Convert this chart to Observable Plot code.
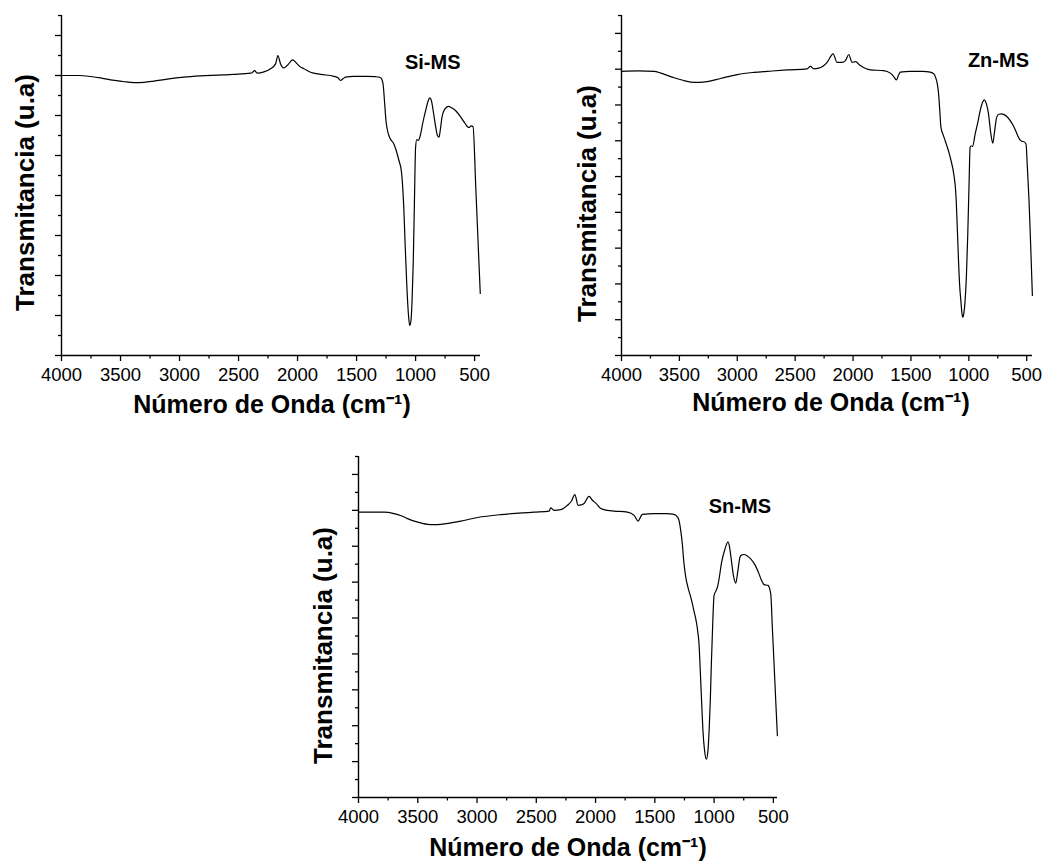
<!DOCTYPE html>
<html>
<head>
<meta charset="utf-8">
<script src="https://cdn.jsdelivr.net/npm/d3@7"></script>
<script src="https://cdn.jsdelivr.net/npm/@observablehq/plot@0.6"></script>
<style>
  html, body { margin: 0; padding: 0; background: #fff; }
  #fig { position: relative; width: 1052px; height: 861px; background: #fff; overflow: hidden; }
  #fig svg { position: absolute; }
</style>
</head>
<body>
<div id="fig"></div>
<script>
// ---------- DATA ----------
const siWave = [4000, 3850, 3754, 3670, 3585, 3480, 3387, 3300, 3218, 3105,
  2963, 2822, 2680, 2540, 2400, 2384, 2364, 2342, 2285, 2229,
  2186, 2167, 2144, 2116, 2088, 2040, 2003, 1975, 1946, 1890,
  1805, 1692, 1660, 1636, 1610, 1593, 1523, 1410, 1340, 1300,
  1285, 1274, 1262, 1250, 1240, 1220, 1184, 1141, 1120, 1110,
  1100, 1090, 1075, 1060, 1050, 1040, 1030, 1020, 1010, 1000,
  990, 975, 960, 940, 915, 895, 880, 865, 850, 830,
  815, 802, 790, 775, 760, 740, 720, 700, 660, 620,
  580, 560, 545, 530, 513, 490, 470, 452];
const siT = [7.00, 7.00, 6.975, 6.94, 6.89, 6.85, 6.82, 6.83, 6.86, 6.91,
  6.96, 6.99, 7.01, 7.03, 7.06, 7.07, 7.12, 7.06, 7.09, 7.17,
  7.29, 7.50, 7.29, 7.19, 7.25, 7.39, 7.29, 7.21, 7.17, 7.08,
  7.03, 6.98, 6.95, 6.875, 6.93, 6.96, 6.98, 6.98, 6.97, 6.95,
  6.90, 6.75, 6.30, 5.85, 5.65, 5.45, 5.29, 4.875, 4.60, 4.25,
  3.70, 2.90, 1.80, 1.00, 0.75, 0.85, 1.35, 2.30, 3.80, 5.20,
  5.40, 5.38, 5.50, 5.80, 6.12, 6.35, 6.44, 6.36, 6.10, 5.72,
  5.50, 5.46, 5.65, 5.98, 6.12, 6.20, 6.23, 6.20, 6.12, 5.97,
  5.80, 5.72, 5.70, 5.74, 5.72, 4.20, 2.80, 1.55];

const znWave = [4000, 3850, 3718, 3661, 3600, 3546, 3470, 3402, 3330, 3259,
  3144, 3000, 2856, 2700, 2569, 2397, 2368, 2339, 2296, 2260,
  2224, 2172, 2138, 2095, 2066, 2037, 2009, 1980, 1937, 1851,
  1736, 1678, 1650, 1626, 1605, 1592, 1506, 1400, 1333, 1300,
  1285, 1270, 1261, 1250, 1241, 1220, 1204, 1161, 1126, 1115,
  1109, 1100, 1089, 1079, 1069, 1060, 1052, 1042, 1032, 1020,
  1009, 998, 989, 978, 968, 945, 920, 902, 880, 865,
  850, 830, 810, 793, 780, 759, 740, 716, 695, 672,
  615, 557, 540, 529, 506, 495, 480, 465, 451];
const znT = [7.94, 7.95, 7.94, 7.89, 7.82, 7.76, 7.69, 7.64, 7.63, 7.65,
  7.74, 7.85, 7.91, 7.95, 7.98, 8.01, 8.08, 8.01, 8.03, 8.08,
  8.19, 8.43, 8.19, 8.19, 8.24, 8.41, 8.19, 8.21, 8.10, 7.98,
  7.96, 7.89, 7.80, 7.70, 7.85, 7.92, 7.94, 7.94, 7.92, 7.86,
  7.75, 7.55, 7.31, 6.80, 6.38, 6.15, 6.00, 5.54, 4.98, 4.65,
  4.33, 3.60, 2.65, 1.95, 1.54, 1.20, 1.07, 1.20, 1.54, 2.30,
  3.40, 4.80, 5.82, 5.86, 5.84, 6.19, 6.55, 6.84, 7.08, 7.14,
  7.05, 6.75, 6.20, 5.93, 6.20, 6.66, 6.74, 6.75, 6.73, 6.68,
  6.42, 6.02, 5.98, 5.98, 5.91, 5.30, 4.33, 3.00, 1.68];

const snWave = [4000, 3784, 3700, 3640, 3587, 3500, 3418, 3360, 3306, 3220,
  3137, 2996, 2800, 2650, 2518, 2392, 2378, 2350, 2293, 2237,
  2203, 2175, 2147, 2120, 2097, 2055, 2026, 1998, 1956, 1900,
  1844, 1731, 1675, 1641, 1620, 1605, 1506, 1400, 1338, 1310,
  1296, 1282, 1268, 1255, 1239, 1220, 1197, 1170, 1147, 1135,
  1127, 1120, 1113, 1103, 1094, 1080, 1065, 1052, 1042, 1032,
  1023, 1012, 1000, 985, 972, 955, 939, 910, 882, 868,
  854, 835, 817, 800, 781, 765, 747, 720, 691, 655,
  621, 600, 578, 545, 522, 508, 494, 480, 466];
const snT = [7.95, 7.95, 7.91, 7.85, 7.77, 7.67, 7.61, 7.60, 7.61, 7.65,
  7.70, 7.80, 7.88, 7.92, 7.95, 7.98, 8.07, 8.00, 8.02, 8.14,
  8.26, 8.44, 8.14, 8.15, 8.19, 8.39, 8.28, 8.20, 8.05, 8.00,
  7.98, 7.95, 7.86, 7.70, 7.82, 7.89, 7.91, 7.91, 7.89, 7.82,
  7.72, 7.45, 7.07, 6.55, 6.14, 5.85, 5.58, 5.20, 4.84, 4.55,
  4.28, 3.80, 3.26, 2.50, 1.86, 1.30, 1.07, 1.30, 1.86, 2.70,
  3.72, 4.80, 5.63, 5.75, 5.86, 6.15, 6.51, 6.90, 7.12, 6.95,
  6.60, 6.15, 5.97, 6.30, 6.70, 6.76, 6.77, 6.73, 6.65, 6.48,
  6.23, 6.05, 5.93, 5.91, 5.67, 4.70, 3.72, 2.70, 1.72];

const xMajorTicks = [4000, 3500, 3000, 2500, 2000, 1500, 1000, 500];
const xMinorTicks = [3750, 3250, 2750, 2250, 1750, 1250, 750];
const yMajorTicksA = [0, 1, 2, 3, 4, 5, 6, 7, 8];
const yMinorTicksA = [0.5, 1.5, 2.5, 3.5, 4.5, 5.5, 6.5, 7.5, 8.5];
const yMajorTicksB = [0, 1, 2, 3, 4, 5, 6, 7, 8, 9];
const yMinorTicksB = [0.5, 1.5, 2.5, 3.5, 4.5, 5.5, 6.5, 7.5, 8.5, 9.5];

const sampleNames = ["Si-MS", "Zn-MS", "Sn-MS"];
const yAxisTitle = "Transmitancia (u.a)";
const xAxisTitle = "Número de Onda (cm⁻¹)";

// ---------- LAYOUT ----------
const FONT = "'Liberation Sans', Arial, Helvetica, sans-serif";
const panels = [
  {wave: siWave, trans: siT, name: sampleNames[0], xEnd: 450, yTop: 8.5, yMajor: yMajorTicksA, yMinor: yMinorTicksA,
   left: 0, top: 0, width: 520, height: 430, mL: 61, mR: 40, mT: 15, mB: 75,
   yLab: [-36, 7], xLab: [1, 49], nameOff: [-20, 47]},
  {wave: znWave, trans: znT, name: sampleNames[1], xEnd: 450, yTop: 9.5, yMajor: yMajorTicksB, yMinor: yMinorTicksB,
   left: 520, top: 0, width: 532, height: 430, mL: 101, mR: 20, mT: 15, mB: 75,
   yLab: [-34, 18], xLab: [4, 47], nameOff: [-3.5, 45]},
  {wave: snWave, trans: snT, name: sampleNames[2], xEnd: 465, yTop: 9.5, yMajor: yMajorTicksB, yMinor: yMinorTicksB,
   left: 260, top: 430, width: 560, height: 431, mL: 98, mR: 43, mT: 26, mB: 64,
   yLab: [-35, 18.5], xLab: [0, 50], nameOff: [-6.5, 50]}
];

const fig = document.getElementById("fig");
for (const p of panels) {
  const data = p.wave.map((w, i) => ({w, t: p.trans[i]}));
  const svg = Plot.plot({
    width: p.width, height: p.height,
    marginLeft: p.mL, marginRight: p.mR, marginTop: p.mT, marginBottom: p.mB,
    style: {fontFamily: FONT, fontSize: "18px", color: "#000", background: "transparent", overflow: "visible"},
    x: {domain: [4000, p.xEnd]},
    y: {domain: [0, p.yTop]},
    marks: [
      Plot.axisY({ticks: p.yMajor, tickSize: 6, tickFormat: () => "", label: null, strokeWidth: 1.3}),
      Plot.axisY({ticks: p.yMinor, tickSize: 3, tickFormat: () => "", label: null, strokeWidth: 1.3}),
      Plot.axisX({ticks: xMajorTicks, tickSize: 6, tickPadding: 6, tickFormat: d => String(d), label: null,
                  fontSize: 18.5, strokeWidth: 1.3}),
      Plot.axisX({ticks: xMinorTicks, tickSize: 3.5, tickFormat: () => "", label: null, strokeWidth: 1.3}),
      Plot.ruleX([4000], {stroke: "#000", strokeWidth: 1.4}),
      Plot.ruleY([0], {stroke: "#000", strokeWidth: 1.4}),
      Plot.line(data, {x: "w", y: "t", curve: "monotone-x", stroke: "#000", strokeWidth: 1.2}),
      Plot.text([p.name], {frameAnchor: "top-right", textAnchor: "end", lineAnchor: "middle",
                 dx: p.nameOff[0], dy: p.nameOff[1], fontSize: 20, fontWeight: "bold", fill: "#000"}),
      Plot.text([yAxisTitle], {frameAnchor: "left", textAnchor: "middle", lineAnchor: "middle", rotate: -90,
                 dx: p.yLab[0], dy: p.yLab[1], fontSize: 26, fontWeight: "bold", fill: "#000"}),
      Plot.text([xAxisTitle], {frameAnchor: "bottom", textAnchor: "middle", lineAnchor: "middle",
                 dx: p.xLab[0], dy: p.xLab[1], fontSize: 25, fontWeight: "bold", fill: "#000"})
    ]
  });
  svg.style.left = p.left + "px";
  svg.style.top = p.top + "px";
  fig.appendChild(svg);
}
</script>
</body>
</html>
